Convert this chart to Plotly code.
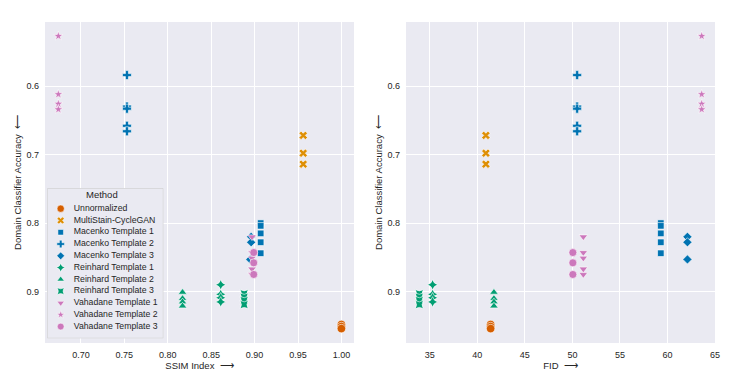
import plotly.graph_objs as go
from plotly.subplots import make_subplots

# --- data ---
methods = [
    'Unnormalized', 'MultiStain-CycleGAN',
    'Macenko Template 1', 'Macenko Template 2', 'Macenko Template 3',
    'Reinhard Template 1', 'Reinhard Template 2', 'Reinhard Template 3',
    'Vahadane Template 1', 'Vahadane Template 2', 'Vahadane Template 3',
]

accuracy = {
    'Unnormalized': [0.948, 0.951, 0.954],
    'MultiStain-CycleGAN': [0.672, 0.698, 0.714],
    'Macenko Template 1': [0.800, 0.804, 0.815, 0.828, 0.844],
    'Macenko Template 2': [0.584, 0.630, 0.633, 0.658, 0.666],
    'Macenko Template 3': [0.820, 0.828, 0.853],
    'Reinhard Template 1': [0.890, 0.904, 0.909, 0.915],
    'Reinhard Template 2': [0.901, 0.910, 0.915, 0.921],
    'Reinhard Template 3': [0.903, 0.908, 0.913, 0.919],
    'Vahadane Template 1': [0.820, 0.843, 0.851, 0.867, 0.875],
    'Vahadane Template 2': [0.527, 0.612, 0.626, 0.634],
    'Vahadane Template 3': [0.843, 0.858, 0.875],
}

ssim = {
    'Unnormalized': [1.0, 1.0, 1.0],
    'MultiStain-CycleGAN': [0.956, 0.956, 0.956],
    'Macenko Template 1': [0.907, 0.907, 0.907, 0.907, 0.907],
    'Macenko Template 2': [0.753, 0.753, 0.753, 0.753, 0.753],
    'Macenko Template 3': [0.896, 0.896, 0.895],
    'Reinhard Template 1': [0.861, 0.861, 0.861, 0.861],
    'Reinhard Template 2': [0.817, 0.817, 0.817, 0.817],
    'Reinhard Template 3': [0.888, 0.888, 0.888, 0.888],
    'Vahadane Template 1': [0.897, 0.897, 0.897, 0.897, 0.897],
    'Vahadane Template 2': [0.674, 0.674, 0.674, 0.674],
    'Vahadane Template 3': [0.899, 0.899, 0.899],
}

fid = {
    'Unnormalized': [41.4, 41.4, 41.4],
    'MultiStain-CycleGAN': [40.9, 40.9, 40.9],
    'Macenko Template 1': [59.3, 59.3, 59.3, 59.3, 59.3],
    'Macenko Template 2': [50.5, 50.5, 50.5, 50.5, 50.5],
    'Macenko Template 3': [62.1, 62.1, 62.1],
    'Reinhard Template 1': [35.3, 35.3, 35.3, 35.3],
    'Reinhard Template 2': [41.75, 41.75, 41.75, 41.75],
    'Reinhard Template 3': [33.9, 33.9, 33.9, 33.9],
    'Vahadane Template 1': [51.15, 51.15, 51.15, 51.15, 51.15],
    'Vahadane Template 2': [63.6, 63.6, 63.6, 63.6],
    'Vahadane Template 3': [50.05, 50.05, 50.05],
}

# --- styles (seaborn colorblind palette) ---
colors = {
    'Unnormalized': '#D55E00', 'MultiStain-CycleGAN': '#DE8F05',
    'Macenko Template 1': '#0173B2', 'Macenko Template 2': '#0173B2', 'Macenko Template 3': '#0173B2',
    'Reinhard Template 1': '#029E73', 'Reinhard Template 2': '#029E73', 'Reinhard Template 3': '#029E73',
    'Vahadane Template 1': '#CC78BC', 'Vahadane Template 2': '#CC78BC', 'Vahadane Template 3': '#CC78BC',
}
symbols = {
    'Unnormalized': ('circle', 8.5), 'MultiStain-CycleGAN': ('x', 7.5),
    'Macenko Template 1': ('square', 6.5), 'Macenko Template 2': ('cross', 7.5),
    'Macenko Template 3': ('diamond', 7),
    'Reinhard Template 1': ('star-diamond', 7.5), 'Reinhard Template 2': ('triangle-up', 7.5),
    'Reinhard Template 3': ('star-square', 7.5),
    'Vahadane Template 1': ('triangle-down', 7.5), 'Vahadane Template 2': ('star', 7),
    'Vahadane Template 3': ('circle', 8),
}

BG = '#EAEAF2'
TXT = '#262626'
FONT = 'Liberation Sans, Arial, sans-serif'

fig = make_subplots(rows=1, cols=2)

for m in methods:
    sym, sz = symbols[m]
    mk = dict(symbol=sym, size=sz, color=colors[m], line=dict(color='white', width=0.6))
    fig.add_trace(go.Scatter(x=ssim[m], y=accuracy[m], mode='markers', marker=mk,
                             name=m, showlegend=False), row=1, col=1)
    fig.add_trace(go.Scatter(x=fid[m], y=accuracy[m], mode='markers', marker=mk,
                             name=m, showlegend=False), row=1, col=2)

# legend drawn on its own small axes so the entries can be packed like matplotlib's
leg_rows = list(range(len(methods)))
for i, m in enumerate(methods):
    sym, sz = symbols[m]
    fig.add_trace(go.Scatter(x=[13.4], y=[leg_rows[i]], mode='markers', xaxis='x3', yaxis='y3',
                             marker=dict(symbol=sym, size=sz * 0.85, color=colors[m],
                                         line=dict(color='white', width=0.5)),
                             showlegend=False, hoverinfo='skip', cliponaxis=False))
fig.add_trace(go.Scatter(x=[26.5] * len(methods), y=leg_rows, mode='text', text=methods,
                         textposition='middle right', xaxis='x3', yaxis='y3',
                         textfont=dict(size=8.7, color=TXT, family=FONT),
                         showlegend=False, hoverinfo='skip', cliponaxis=False))

axis_common = dict(showgrid=True, gridcolor='white', gridwidth=1, zeroline=False,
                   showline=False, ticks='', ticklabelstandoff=5, automargin=False,
                   tickfont=dict(size=9, color=TXT))

# page body adds an 8px margin at left/top, so the figure is sized 8px smaller
fig.update_layout(
    width=740, height=375,
    margin=dict(l=37, r=33, t=14, b=40),
    paper_bgcolor='white', plot_bgcolor=BG,
    font=dict(family=FONT, color=TXT, size=9),
    showlegend=False,
    xaxis=dict(domain=[0, 0.4612], range=[0.6586, 1.0145], tickvals=[0.70, 0.75, 0.80, 0.85, 0.90, 0.95, 1.00],
               tickformat='.2f', title=dict(text='SSIM Index  ⟶', font=dict(size=9.5), standoff=0),
               **axis_common),
    xaxis2=dict(domain=[0.5388, 1], range=[32.5, 65], tickvals=[35, 40, 45, 50, 55, 60, 65],
                title=dict(text='FID  ⟶', font=dict(size=9.5), standoff=0), **axis_common),
    yaxis=dict(range=[0.975, 0.5065], tickvals=[0.6, 0.7, 0.8, 0.9],
               title=dict(text='Domain Classifier Accuracy  ⟵', font=dict(size=9.5), standoff=3),
               **axis_common),
    yaxis2=dict(range=[0.975, 0.5065], tickvals=[0.6, 0.7, 0.8, 0.9],
                title=dict(text='Domain Classifier Accuracy  ⟵', font=dict(size=9.5), standoff=3),
                **axis_common),
    xaxis3=dict(domain=[0.0034, 0.1766], range=[0, 116], visible=False, anchor='y3', fixedrange=True),
    yaxis3=dict(domain=[0.0146, 0.4819], range=[11.0, -1.728], visible=False, anchor='x3', fixedrange=True),
    shapes=[dict(type='rect', xref='x3', yref='y3', x0=0, x1=116, y0=11.0, y1=-1.728,
                 line=dict(color='#CCCCCC', width=1), fillcolor='rgba(234,234,242,0.9)',
                 layer='below')],
    annotations=[dict(text='Method', xref='x3', yref='y3', x=54.4, y=-1.18, showarrow=False,
                      font=dict(size=9.5, color=TXT), xanchor='center', yanchor='middle')],
)

fig.write_html("out.html")
